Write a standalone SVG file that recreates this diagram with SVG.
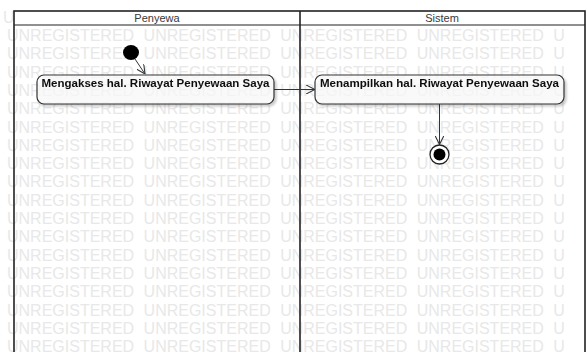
<svg xmlns="http://www.w3.org/2000/svg" width="587" height="352" viewBox="0 0 587 352">
<style>
.wm{font-family:"Liberation Sans",Arial,sans-serif;font-size:16px;fill:#e8e8e8;word-spacing:5px}
.lane{font-family:"Liberation Sans",Arial,sans-serif;font-size:11px;fill:#3a3a3a;text-anchor:middle}
.act{font-family:"Liberation Sans",Arial,sans-serif;font-size:11.5px;font-weight:bold;fill:#111}
.box{fill:#fff;fill-opacity:0.7;stroke:#333;stroke-width:1.2}
.edge{fill:none;stroke:#333;stroke-width:1}
.frame{fill:none;stroke:#222;stroke-width:1.6}
</style>
<defs>
<marker id="open" viewBox="0 0 10 10" refX="10" refY="5" markerWidth="9" markerHeight="9" orient="auto" markerUnits="userSpaceOnUse">
<path d="M0,0 L10,5 L0,10" fill="none" stroke="#333" stroke-width="1.2"/>
</marker>
<filter id="sh" x="-5%" y="-10%" width="115%" height="140%">
<feGaussianBlur in="SourceAlpha" stdDeviation="1.2"/>
<feOffset dx="2" dy="2" result="b"/>
<feComponentTransfer><feFuncA type="linear" slope="0.25"/></feComponentTransfer>
<feMerge><feMergeNode/><feMergeNode in="SourceGraphic"/></feMerge>
</filter>
</defs>
<rect width="587" height="352" fill="#fff"/>
<g id="watermark">
<text class="wm" x="3" y="22.7">U</text>
<text class="wm" x="7" y="41">UNREGISTERED UNREGISTERED UNREGISTERED UNREGISTERED U</text>
<text class="wm" x="7" y="59.3">UNREGISTERED UNREGISTERED UNREGISTERED UNREGISTERED U</text>
<text class="wm" x="7" y="77.6">UNREGISTERED UNREGISTERED UNREGISTERED UNREGISTERED U</text>
<text class="wm" x="7" y="95.9">UNREGISTERED UNREGISTERED UNREGISTERED UNREGISTERED U</text>
<text class="wm" x="7" y="114.2">UNREGISTERED UNREGISTERED UNREGISTERED UNREGISTERED U</text>
<text class="wm" x="7" y="132.5">UNREGISTERED UNREGISTERED UNREGISTERED UNREGISTERED U</text>
<text class="wm" x="7" y="150.8">UNREGISTERED UNREGISTERED UNREGISTERED UNREGISTERED U</text>
<text class="wm" x="7" y="169.1">UNREGISTERED UNREGISTERED UNREGISTERED UNREGISTERED U</text>
<text class="wm" x="7" y="187.4">UNREGISTERED UNREGISTERED UNREGISTERED UNREGISTERED U</text>
<text class="wm" x="7" y="205.7">UNREGISTERED UNREGISTERED UNREGISTERED UNREGISTERED U</text>
<text class="wm" x="7" y="224">UNREGISTERED UNREGISTERED UNREGISTERED UNREGISTERED U</text>
<text class="wm" x="7" y="242.3">UNREGISTERED UNREGISTERED UNREGISTERED UNREGISTERED U</text>
<text class="wm" x="7" y="260.6">UNREGISTERED UNREGISTERED UNREGISTERED UNREGISTERED U</text>
<text class="wm" x="7" y="278.9">UNREGISTERED UNREGISTERED UNREGISTERED UNREGISTERED U</text>
<text class="wm" x="7" y="297.2">UNREGISTERED UNREGISTERED UNREGISTERED UNREGISTERED U</text>
<text class="wm" x="7" y="315.5">UNREGISTERED UNREGISTERED UNREGISTERED UNREGISTERED U</text>
<text class="wm" x="7" y="333.8">UNREGISTERED UNREGISTERED UNREGISTERED UNREGISTERED U</text>
<text class="wm" x="7" y="352.1">UNREGISTERED UNREGISTERED UNREGISTERED UNREGISTERED U</text>
</g>
<g id="swimlanes">
<rect x="14" y="11" width="571" height="14" fill="#fff"/>
<rect x="14" y="11" width="571" height="345" class="frame"/>
<line x1="14" y1="25" x2="585" y2="25" stroke="#222" stroke-width="1.2"/>
<line x1="300" y1="11" x2="300" y2="352" stroke="#222" stroke-width="1.6"/>
<text class="lane" x="157" y="22">Penyewa</text>
<text class="lane" x="442" y="22">Sistem</text>
</g>
<g id="connectors">
<line class="edge" x1="135" y1="59" x2="145" y2="74" marker-end="url(#open)"/>
<line class="edge" x1="274" y1="89.5" x2="315" y2="89.5" marker-end="url(#open)"/>
<line class="edge" x1="439.5" y1="104" x2="439.5" y2="144.5" marker-end="url(#open)"/>
</g>
<g id="start">
<ellipse cx="131" cy="52.5" rx="8" ry="7.5" fill="#000"/>
</g>
<g id="action1" filter="url(#sh)">
<rect class="box" x="37" y="75" width="237" height="29" rx="7"/>
<text class="act" x="41.5" y="87" textLength="228" lengthAdjust="spacingAndGlyphs">Mengakses hal. Riwayat Penyewaan Saya</text>
</g>
<g id="action2" filter="url(#sh)">
<rect class="box" x="315" y="75" width="249" height="29" rx="7"/>
<text class="act" x="320" y="87" textLength="239" lengthAdjust="spacingAndGlyphs">Menampilkan hal. Riwayat Penyewaan Saya</text>
</g>
<g id="end">
<circle cx="439.5" cy="154.5" r="9.5" fill="#fff" stroke="#222" stroke-width="1.3"/>
<circle cx="439.5" cy="154.5" r="6" fill="#000"/>
</g>
</svg>
